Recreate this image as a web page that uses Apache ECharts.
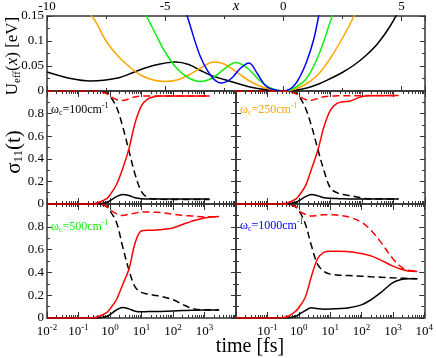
<!DOCTYPE html>
<html>
<head>
<meta charset="utf-8">
<script src="https://cdn.jsdelivr.net/npm/echarts@6/dist/echarts.min.js"></script>
<style>
  html, body { margin: 0; padding: 0; background: #fff; }
  #chart { width: 436px; height: 358px; }
</style>
</head>
<body>
<div id="chart"></div>
<script>
// ---- top panel: effective potentials U_eff(x) ----
const xBlack = [-10, -9, -8.15, -7, -6.3, -5.5, -4.55, -4, -3.5, -3, -2.5, -2, -1.5, -1, -0.5, 0, 0.5, 1, 1.5, 2, 2.5, 3, 3.5, 4, 4.5, 5, 5.3];
const uBlack = [0.038, 0.025, 0.020, 0.026, 0.038, 0.051, 0.058, 0.053, 0.041, 0.030, 0.023, 0.016, 0.009, 0.0045, 0.0012, 0, 0.0015, 0.006, 0.014, 0.025, 0.037, 0.052, 0.071, 0.095, 0.128, 0.17, 0.2];

const xOrange = [-8.6, -8, -7.5, -7, -6.5, -6, -5.5, -5, -4.5, -4, -3.5, -2.95, -2.5, -2, -1.5, -1, -0.5, 0, 0.5, 1, 1.5, 2, 2.5, 3, 3.3];
const uOrange = [0.175, 0.143, 0.10, 0.07, 0.048, 0.031, 0.022, 0.019, 0.022, 0.032, 0.046, 0.058, 0.054, 0.039, 0.022, 0.010, 0.003, 0, 0.004, 0.015, 0.034, 0.066, 0.105, 0.15, 0.18];

const xGreen = [-6, -5.5, -5, -4.5, -4, -3.5, -3, -2.5, -2, -1.5, -1, -0.5, 0, 0.5, 1, 1.5, 2, 2.2];
const uGreen = [0.17, 0.123, 0.078, 0.045, 0.026, 0.019, 0.026, 0.044, 0.057, 0.045, 0.021, 0.005, 0, 0.007, 0.026, 0.072, 0.14, 0.17];

const xBlue = [-4.2, -4, -3.5, -3, -2.6, -2.2, -1.8, -1.45, -1.1, -0.8, -0.5, 0, 0.4, 0.7, 1, 1.3, 1.5, 1.6];
const uBlue = [0.17, 0.14, 0.068, 0.027, 0.016, 0.025, 0.046, 0.056, 0.035, 0.013, 0.004, 0, 0.008, 0.028, 0.06, 0.105, 0.15, 0.17];

// ---- lower panels: sigma_11(t), time in fs ----
const t100 = [0.01, 0.1, 0.3, 0.5, 0.8, 1, 1.6, 2.5, 4, 6.3, 10, 16, 25, 40, 100, 1450];
const redSolid100  = [0, 0, 0.003, 0.02, 0.05, 0.08, 0.17, 0.31, 0.49, 0.72, 0.87, 0.93, 0.95, 0.955, 0.955, 0.955];
const redDash100   = [1, 1, 1, 0.995, 0.975, 0.955, 0.925, 0.915, 0.93, 0.95, 0.955, 0.955, 0.955, 0.955, 0.955, 0.955];
const blackSolid100 = [0, 0, 0, 0.003, 0.015, 0.03, 0.065, 0.085, 0.075, 0.055, 0.047, 0.045, 0.045, 0.045, 0.045, 0.045];
const blackDash100 = [1, 1, 1, 0.995, 0.98, 0.955, 0.86, 0.69, 0.47, 0.26, 0.11, 0.055, 0.045, 0.042, 0.04, 0.04];

const t250 = [0.01, 0.1, 0.3, 0.5, 0.8, 1, 1.6, 2.5, 4, 6.3, 10, 16, 25, 40, 63, 100, 200, 1450];
const redSolid250  = [0, 0, 0.002, 0.015, 0.045, 0.075, 0.16, 0.31, 0.48, 0.69, 0.83, 0.89, 0.905, 0.91, 0.93, 0.952, 0.958, 0.96];
const redDash250   = [1, 1, 1, 0.995, 0.975, 0.955, 0.925, 0.918, 0.935, 0.95, 0.955, 0.957, 0.958, 0.958, 0.958, 0.96, 0.96, 0.96];
const blackSolid250 = [0, 0, 0, 0.003, 0.015, 0.03, 0.065, 0.083, 0.072, 0.055, 0.05, 0.048, 0.046, 0.045, 0.045, 0.045, 0.045, 0.045];
const blackDash250 = [1, 1, 1, 0.995, 0.98, 0.955, 0.85, 0.69, 0.48, 0.29, 0.14, 0.10, 0.085, 0.075, 0.065, 0.052, 0.046, 0.045];

const t500 = [0.01, 0.1, 0.3, 0.5, 0.8, 1, 1.6, 2.5, 4, 6.3, 10, 16, 25, 40, 100, 200, 400, 1000, 2900];
const redSolid500  = [0, 0, 0.003, 0.02, 0.05, 0.08, 0.16, 0.29, 0.43, 0.66, 0.765, 0.77, 0.77, 0.775, 0.79, 0.82, 0.85, 0.878, 0.89];
const redDash500   = [1, 1, 1, 0.995, 0.98, 0.95, 0.915, 0.9, 0.91, 0.92, 0.93, 0.93, 0.928, 0.925, 0.91, 0.9, 0.895, 0.887, 0.89];
const blackSolid500 = [0, 0, 0, 0.003, 0.015, 0.03, 0.07, 0.092, 0.08, 0.06, 0.055, 0.056, 0.057, 0.058, 0.062, 0.065, 0.068, 0.07, 0.07];
const blackDash500 = [1, 1, 1, 0.995, 0.975, 0.94, 0.84, 0.63, 0.42, 0.27, 0.225, 0.21, 0.2, 0.19, 0.16, 0.12, 0.085, 0.07, 0.07];

const t1000 = [0.01, 0.1, 0.3, 0.5, 0.8, 1, 1.6, 2.5, 4, 6.3, 10, 16, 40, 100, 200, 400, 1000, 2000, 3000, 6000];
const redSolid1000  = [0, 0, 0.003, 0.02, 0.06, 0.09, 0.18, 0.36, 0.52, 0.575, 0.585, 0.585, 0.582, 0.565, 0.545, 0.51, 0.455, 0.425, 0.412, 0.408];
const redDash1000   = [1, 1, 1, 0.995, 0.975, 0.94, 0.91, 0.895, 0.9, 0.905, 0.905, 0.903, 0.885, 0.84, 0.77, 0.67, 0.52, 0.44, 0.42, 0.41];
const blackSolid1000 = [0, 0, 0, 0.003, 0.015, 0.03, 0.065, 0.09, 0.082, 0.077, 0.078, 0.082, 0.09, 0.115, 0.16, 0.22, 0.31, 0.34, 0.345, 0.345];
const blackDash1000 = [1, 1, 1, 0.995, 0.975, 0.945, 0.83, 0.64, 0.47, 0.41, 0.385, 0.378, 0.372, 0.367, 0.362, 0.358, 0.352, 0.349, 0.347, 0.345];

const SERIF = '"Liberation Serif", "DejaVu Serif", serif';
const AXIS_COLOR = '#333';
const ORANGE = '#ffa500', GREEN = '#11ee11', BLUE = '#0000ff', RED = '#ff0000';

const pairs = (xs, ys) => xs.map((x, i) => [x, ys[i]]);

function frameLine() {
  return { show: true, onZero: false, lineStyle: { color: AXIS_COLOR, width: 1.5 } };
}
function tick(len) {
  return { show: true, inside: true, length: len, lineStyle: { color: AXIS_COLOR, width: 1 } };
}

// log time axis; label: 'left' | 'right' | null
function logAxis(grid, position, label) {
  return {
    type: 'log', logBase: 10, min: 0.01, max: 10000, gridIndex: grid, position: position,
    axisLine: frameLine(),
    axisTick: tick(6),
    minorTick: { show: true, splitNumber: 9, length: 3, lineStyle: { color: AXIS_COLOR, width: 1 } },
    splitLine: { show: false },
    axisLabel: label ? {
      show: true, margin: 5, color: '#000', fontFamily: SERIF, fontSize: 13,
      formatter: v => {
        const e = Math.round(Math.log10(v));
        if (label === 'left' && e === 4) return '';
        if (label === 'right' && e === -2) return '';
        return '10{sup|' + e + '}';
      },
      rich: { sup: { fontSize: 9, fontFamily: SERIF, color: '#000', padding: [0, 0, 8, 0] } }
    } : { show: false }
  };
}

function sigmaAxis(grid, position, labels) {
  return {
    type: 'value', min: 0, max: 1, interval: 0.2, gridIndex: grid, position: position,
    axisLine: frameLine(),
    axisTick: tick(5),
    minorTick: { show: true, splitNumber: 2, length: 3, lineStyle: { color: AXIS_COLOR, width: 1 } },
    splitLine: { show: false },
    axisLabel: labels ? {
      show: true, margin: 3, color: '#000', fontFamily: SERIF, fontSize: 13,
      formatter: v => (v >= 0.99 ? '' : String(+v.toFixed(2)))
    } : { show: false }
  };
}

const grids = [
  { left: 47, top: 16, width: 378, height: 75 },
  { left: 47, top: 91, width: 189, height: 113 },
  { left: 236, top: 91, width: 189, height: 113 },
  { left: 47, top: 204, width: 189, height: 114 },
  { left: 236, top: 204, width: 189, height: 114 }
];

const xAxes = [
  {
    type: 'value', min: -10, max: 6, interval: 5, gridIndex: 0, position: 'top',
    axisLine: frameLine(), axisTick: tick(5),
    minorTick: { show: true, splitNumber: 2, length: 3, lineStyle: { color: AXIS_COLOR, width: 1 } },
    splitLine: { show: false },
    axisLabel: { margin: 3, color: '#000', fontFamily: SERIF, fontSize: 13, formatter: v => (v === 6 ? '' : String(v)) }
  },
  {
    type: 'value', min: -10, max: 6, interval: 5, gridIndex: 0, position: 'bottom',
    axisLine: frameLine(), axisTick: tick(5),
    minorTick: { show: true, splitNumber: 2, length: 3, lineStyle: { color: AXIS_COLOR, width: 1 } },
    splitLine: { show: false }, axisLabel: { show: false }
  },
  logAxis(1, 'bottom', null), logAxis(1, 'top', null),
  logAxis(2, 'bottom', null), logAxis(2, 'top', null),
  logAxis(3, 'bottom', 'left'), logAxis(3, 'top', null),
  logAxis(4, 'bottom', 'right'), logAxis(4, 'top', null)
];

const yAxes = [
  {
    type: 'value', min: 0, max: 0.15, interval: 0.05, gridIndex: 0, position: 'left',
    axisLine: frameLine(), axisTick: tick(5),
    minorTick: { show: true, splitNumber: 2, length: 3, lineStyle: { color: AXIS_COLOR, width: 1 } },
    splitLine: { show: false },
    axisLabel: { margin: 3, color: '#000', fontFamily: SERIF, fontSize: 13 }
  },
  {
    type: 'value', min: 0, max: 0.15, interval: 0.05, gridIndex: 0, position: 'right',
    axisLine: frameLine(), axisTick: tick(5),
    minorTick: { show: true, splitNumber: 2, length: 3, lineStyle: { color: AXIS_COLOR, width: 1 } },
    splitLine: { show: false }, axisLabel: { show: false }
  },
  sigmaAxis(1, 'left', true), sigmaAxis(1, 'right', false),
  sigmaAxis(2, 'left', false), sigmaAxis(2, 'right', false),
  sigmaAxis(3, 'left', true), sigmaAxis(3, 'right', false),
  sigmaAxis(4, 'left', false), sigmaAxis(4, 'right', false)
];

function curve(axis, data, color, dashed) {
  return {
    type: 'line', xAxisIndex: axis, yAxisIndex: axis, data: data,
    showSymbol: false, smooth: 0.35, clip: true, animation: false,
    lineStyle: { color: color, width: 1.5, type: dashed ? [7, 4] : 'solid' }
  };
}

const series = [
  curve(0, pairs(xBlack, uBlack), '#000'),
  curve(0, pairs(xOrange, uOrange), ORANGE),
  curve(0, pairs(xGreen, uGreen), GREEN),
  curve(0, pairs(xBlue, uBlue), BLUE)
];

const panels = [
  [2, t100, redSolid100, redDash100, blackSolid100, blackDash100],
  [4, t250, redSolid250, redDash250, blackSolid250, blackDash250],
  [6, t500, redSolid500, redDash500, blackSolid500, blackDash500],
  [8, t1000, redSolid1000, redDash1000, blackSolid1000, blackDash1000]
];
panels.forEach(([ax, t, rs, rd, bs, bd]) => {
  series.push(curve(ax, pairs(t, bs), '#000'));
  series.push(curve(ax, pairs(t, bd), '#000', true));
  series.push(curve(ax, pairs(t, rs), RED));
  series.push(curve(ax, pairs(t, rd), RED, true));
});

function omegaLabel(x, y, value, color) {
  return {
    type: 'text', left: x, top: y, z: 100,
    style: {
      text: 'ω{sub|c}=' + value + 'cm{sup|-1}',
      fill: color, font: '12px ' + SERIF,
      rich: {
        sub: { fontSize: 8, fontFamily: SERIF, fill: color, padding: [6, 0, 0, 0] },
        sup: { fontSize: 8, fontFamily: SERIF, fill: color, padding: [0, 0, 7, 0] }
      }
    }
  };
}

const graphic = [
  {
    type: 'text', x: 236, y: 6, z: 100,
    style: { text: 'x', fill: '#000', font: 'italic 15px ' + SERIF, align: 'center', verticalAlign: 'middle' }
  },
  {
    type: 'text', x: 13, y: 56, rotation: Math.PI / 2, z: 100,
    style: {
      text: 'U{sub|eff}({it|x}) [eV]', fill: '#000', font: '17px ' + SERIF,
      align: 'center', verticalAlign: 'middle',
      rich: {
        sub: { fontSize: 11, fontFamily: SERIF, fill: '#000', padding: [8, 0, 0, 0] },
        it: { fontSize: 17, fontFamily: SERIF, fontStyle: 'italic', fill: '#000' }
      }
    }
  },
  {
    type: 'text', x: 14, y: 152, rotation: Math.PI / 2, z: 100,
    style: {
      text: 'σ{sub|11}(t)', fill: '#000', font: '21px ' + SERIF,
      align: 'center', verticalAlign: 'middle',
      rich: { sub: { fontSize: 13, fontFamily: SERIF, fill: '#000', padding: [10, 0, 0, 0] } }
    }
  },
  {
    type: 'text', x: 250, y: 347, z: 100,
    style: { text: 'time [fs]', fill: '#000', font: '20px ' + SERIF, align: 'center', verticalAlign: 'middle' }
  },
  omegaLabel(51, 102, '100', '#000'),
  omegaLabel(240, 102, '250', ORANGE),
  omegaLabel(51, 219, '500', GREEN),
  omegaLabel(240, 218, '1000', BLUE)
];

const chart = echarts.init(document.getElementById('chart'));
chart.setOption({
  animation: false,
  backgroundColor: '#fff',
  grid: grids,
  xAxis: xAxes,
  yAxis: yAxes,
  series: series,
  graphic: graphic
});
</script>
</body>
</html>
